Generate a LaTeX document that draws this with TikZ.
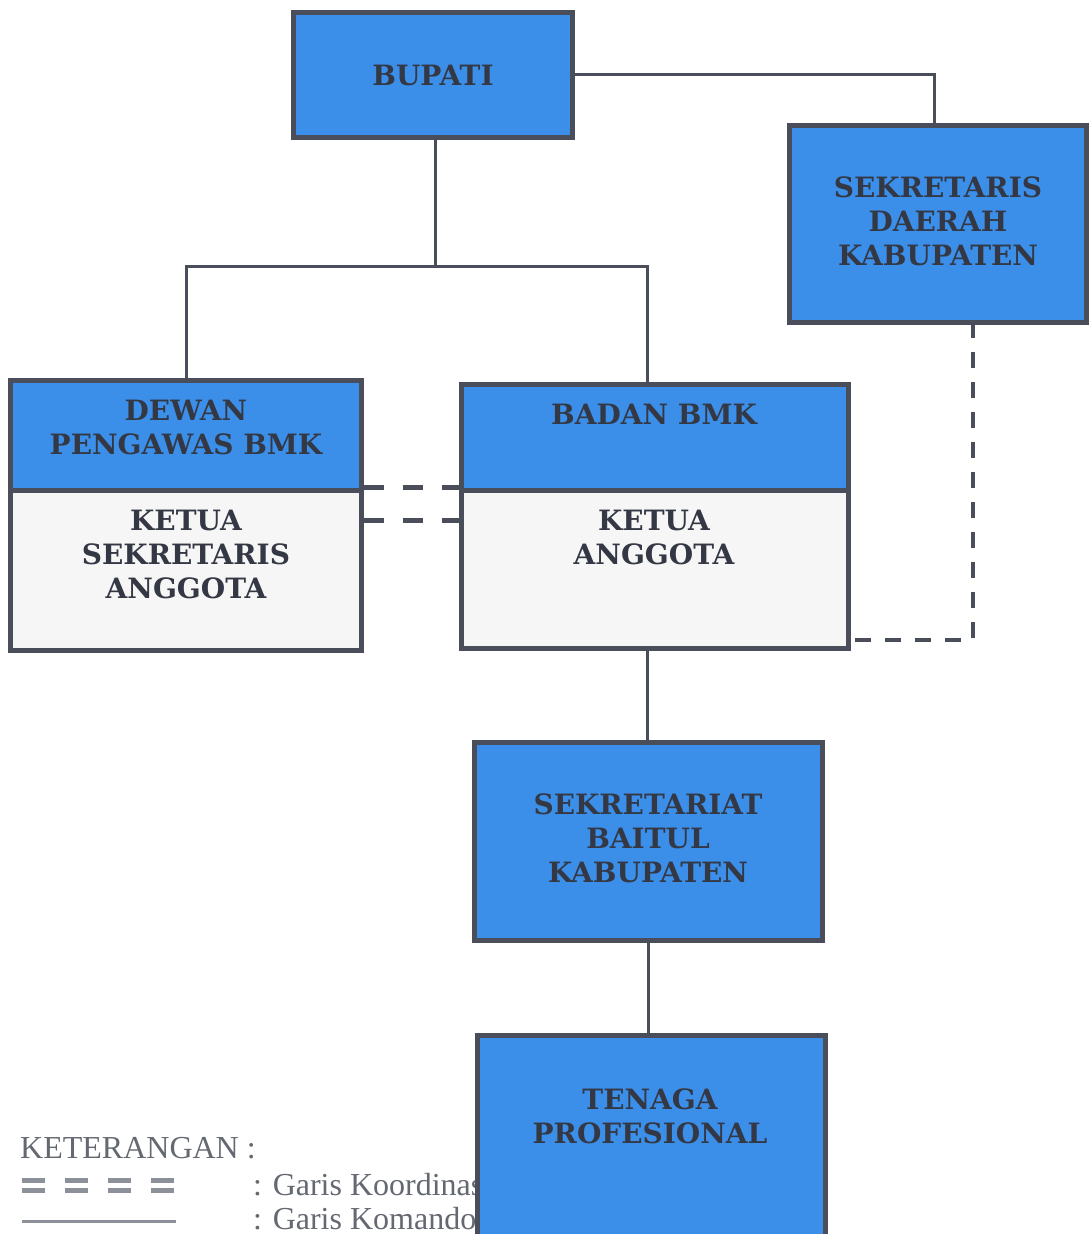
\documentclass[tikz,border=0pt]{standalone}
\usepackage{fontspec}
\setmainfont{Liberation Serif}
\newfontfamily\stencil{DejaVu Serif}
\usetikzlibrary{calc}
\definecolor{boxblue}{RGB}{60,143,232}
\definecolor{boxedge}{RGB}{74,78,90}
\definecolor{lowfill}{RGB}{246,246,246}
\definecolor{txtdark}{RGB}{52,56,68}
\definecolor{legtxt}{RGB}{100,104,112}
\definecolor{leggray}{RGB}{140,144,152}
\tikzset{
  box/.style={draw=boxedge, line width=5pt, fill=boxblue, inner sep=0pt},
  lowbox/.style={box, fill=lowfill},
  lbl/.style={text=txtdark, font=\stencil\bfseries\fontsize{28}{34}\selectfont, align=center, inner sep=0pt},
  cmd/.style={draw=boxedge, line width=3pt},
  coordline/.style={draw=boxedge, line width=5.5pt, dash pattern=on 20pt off 19pt},
  coordthin/.style={draw=boxedge, line width=3.5pt, dash pattern=on 16pt off 14pt},
  legend/.style={text=legtxt, font=\fontsize{32}{36}\selectfont, inner sep=0pt, anchor=base west},
}
\begin{document}
\begin{tikzpicture}[x=1pt,y=-1pt]
\useasboundingbox (0,0) rectangle (1088,1234);
\fill[white] (0,0) rectangle (1088,1234);
% legend (drawn first, partly covered by the last box)
\node[legend] (ket) at (20,1158) {KETERANGAN :};
\node[legend] (koord) at (253,1195) {: Garis Koordinasi};
\node[legend] (koman) at (253,1229) {: Garis Komando};
\coordinate (d1a) at (22,1180); \coordinate (d1b) at (176,1180);
\coordinate (d2a) at (22,1190); \coordinate (d2b) at (176,1190);
\draw[leggray, line width=5pt, dash pattern=on 23pt off 20pt] (d1a) -- (d1b);
\draw[leggray, line width=5pt, dash pattern=on 23pt off 20pt] (d2a) -- (d2b);
\coordinate (s1a) at (22,1221); \coordinate (s1b) at (176,1221);
\draw[leggray, line width=3pt] (s1a) -- (s1b);
% boxes
\node[box, minimum width=279pt, minimum height=125pt] (bupati) at (432.5,74.5) {};
\node[box, minimum width=297pt, minimum height=197pt] (sekda) at (937.5,223.5) {};
\node[box, minimum width=351pt, minimum height=110pt] (dewanT) at (185.5,435) {};
\node[lowbox, minimum width=351pt, minimum height=160pt] (dewanB) at (185.5,570) {};
\node[box, minimum width=387pt, minimum height=106pt] (badanT) at (654.5,437) {};
\node[lowbox, minimum width=387pt, minimum height=158pt] (badanB) at (654.5,569) {};
\node[box, minimum width=348pt, minimum height=198pt] (sekret) at (648,841) {};
\node[box, minimum width=348pt, minimum height=210pt] (tenaga) at (651,1140) {};
% texts
\node[lbl] (tbupati) at (433,75) {BUPATI};
\node[lbl] (tsekda) at (938,221) {SEKRETARIS\\DAERAH\\KABUPATEN};
\node[lbl] (tdewanT) at (186,427.5) {DEWAN\\PENGAWAS BMK};
\node[lbl] (tdewanB) at (186,554) {KETUA\\SEKRETARIS\\ANGGOTA};
\node[lbl] (tbadanT) at (654,414) {BADAN BMK};
\node[lbl] (tbadanB) at (654,537) {KETUA\\ANGGOTA};
\node[lbl] (tsekret) at (648,838) {SEKRETARIAT\\BAITUL\\KABUPATEN};
\node[lbl] (ttenaga) at (650,1116) {TENAGA\\PROFESIONAL};
% command lines
\coordinate (j1) at (435,266);
\coordinate (sekdaIn) at (934,125);
\draw[cmd] (bupati.east) -| (sekdaIn);
\draw[cmd] (bupati.south -| j1) -- (j1);
\coordinate (dewIn) at (186,380);
\coordinate (badIn) at (647,384);
\draw[cmd] (dewIn) |- (j1) -| (badIn);
\coordinate (badOut) at (647,648);
\coordinate (sekIn) at (647,742);
\draw[cmd] (badOut) -- (sekIn);
\coordinate (sekOut) at (648,940);
\coordinate (tenIn) at (648,1035);
\draw[cmd] (sekOut) -- (tenIn);
% coordination lines
\draw[coordline] (dewanB.north east) -- (dewanB.north east -| badanB.west);
\draw[coordline] ([yshift=-33pt]dewanB.north east) -- ([yshift=-33pt]dewanB.north east -| badanB.west);
\coordinate (sekdaOut) at (973,322);
\coordinate (badSide) at (848,640);
\draw[coordthin] (sekdaOut) |- (badSide);
\end{tikzpicture}
\end{document}
